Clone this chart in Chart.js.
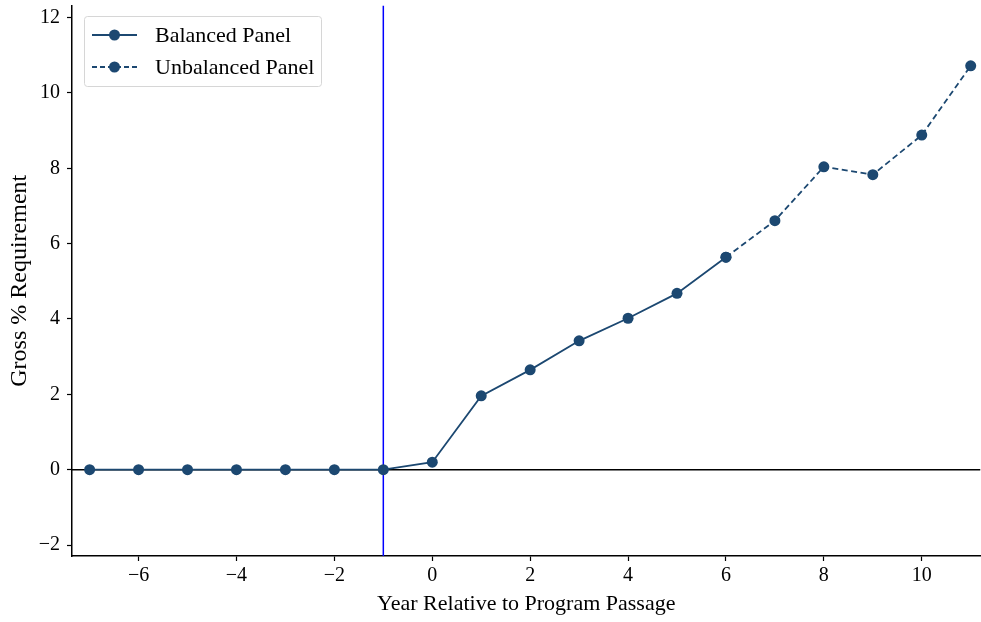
<!DOCTYPE html>
<html>
<head>
<meta charset="utf-8">
<script src="https://cdn.jsdelivr.net/npm/chart.js@4.4.1/dist/chart.umd.min.js"></script>
<style>
  html, body { margin: 0; padding: 0; background: #fff; overflow: hidden; }
  /* canvas is a few px wider than the window: chart.js keeps ~5px spare on the right */
  #wrap { width: 981px; height: 622px; overflow: hidden; }
</style>
</head>
<body>
<div id="wrap"><canvas id="chart" width="986" height="622"></canvas></div>
<script>
// data
balYears = [-7, -6, -5, -4, -3, -2, -1, 0, 1, 2, 3, 4, 5, 6];
balValues = [0, 0, 0, 0, 0, 0, 0, 0.20, 1.96, 2.65, 3.42, 4.02, 4.68, 5.64];
unbYears = [6, 7, 8, 9, 10, 11];
unbValues = [5.64, 6.61, 8.04, 7.83, 8.88, 10.72];
xTicks = [-6, -4, -2, 0, 2, 4, 6, 8, 10];
yTicks = [-2, 0, 2, 4, 6, 8, 10, 12];
passageYear = -1;
xRange = [-7.36, 11.2];
yRange = [-2.29, 12.32];

lineColor = '#1c4871';
serif = "'Liberation Serif', 'DejaVu Serif', serif";

function toPoints(xs, ys) {
  pts = [];
  for (let i = 0; i < xs.length; i++) {
    pts.push({x: xs[i], y: ys[i]});
  }
  return pts;
}

function minusSign(v) {
  return String(v).replace('-', '\u2212');
}

// legend drawn by hand so the line+marker sample looks like matplotlib
const legendPlugin = {
  id: 'mplLegend',
  afterDraw(chart) {
    const ctx = chart.ctx;
    const area = chart.chartArea;
    const x0 = area.left + 12, y0 = 16, w = 237, h = 70;
    ctx.save();
    ctx.fillStyle = 'rgba(255,255,255,0.8)';
    ctx.strokeStyle = '#d6d6d6';
    ctx.lineWidth = 1;
    ctx.beginPath();
    ctx.roundRect(x0 + 0.5, y0 + 0.5, w, h, 3);
    ctx.fill();
    ctx.stroke();
    const items = [
      {label: 'Balanced Panel', dash: []},
      {label: 'Unbalanced Panel', dash: [5, 3]},
    ];
    items.forEach(function(it, k) {
      const cy = y0 + 19 + k * 32;
      ctx.strokeStyle = lineColor;
      ctx.lineWidth = 1.8;
      ctx.setLineDash(it.dash);
      ctx.beginPath();
      ctx.moveTo(x0 + 8, cy);
      ctx.lineTo(x0 + 53, cy);
      ctx.stroke();
      ctx.setLineDash([]);
      ctx.fillStyle = lineColor;
      ctx.beginPath();
      ctx.arc(x0 + 30.5, cy, 5.5, 0, Math.PI * 2);
      ctx.fill();
      ctx.fillStyle = '#000';
      ctx.font = '22px ' + serif;
      ctx.textBaseline = 'middle';
      ctx.fillText(it.label, x0 + 71, cy + 1);
    });
    ctx.restore();
  }
};

const data = {
  datasets: [{
    label: 'zero',
    data: [{x: xRange[0], y: 0}, {x: xRange[1], y: 0}],
    borderColor: '#000',
    borderWidth: 1.5,
    pointRadius: 0,
    order: 4,
  }, {
    label: 'passage',
    data: [{x: passageYear, y: yRange[0]}, {x: passageYear, y: yRange[1]}],
    borderColor: '#0000ff',
    borderWidth: 1.5,
    pointRadius: 0,
    order: 3,
  }, {
    label: 'Unbalanced Panel',
    data: toPoints(unbYears, unbValues),
    borderColor: lineColor,
    backgroundColor: lineColor,
    borderWidth: 1.8,
    borderDash: [6, 3.5],
    pointRadius: 5.5,
    pointBorderWidth: 0,
    order: 2,
  }, {
    label: 'Balanced Panel',
    data: toPoints(balYears, balValues),
    borderColor: lineColor,
    backgroundColor: lineColor,
    borderWidth: 1.8,
    pointRadius: 5.5,
    pointBorderWidth: 0,
    order: 1,
  }]
};

const options = {
  responsive: false,
  animation: false,
  events: [],
  layout: { padding: { top: 5, right: 0, left: 0, bottom: 0 } },
  plugins: {
    legend: { display: false },
    tooltip: { enabled: false },
  },
  scales: {
    x: {
      type: 'linear',
      min: xRange[0],
      max: xRange[1],
      afterBuildTicks: function(scale) {
        scale.ticks = xTicks.map(v => ({value: v}));
      },
      afterFit: function(scale) {
        scale.height = 66;
        scale.paddingLeft = 0;
        scale.paddingRight = 0;
      },
      border: { display: true, color: '#000', width: 1.5 },
      grid: { display: true, drawOnChartArea: false, drawTicks: true, tickLength: 5, tickColor: '#000', tickWidth: 1.2 },
      ticks: {
        color: '#000',
        font: { family: serif, size: 20 },
        padding: 3,
        maxRotation: 0,
        callback: v => minusSign(v),
      },
      title: {
        display: true,
        text: 'Year Relative to Program Passage',
        color: '#000',
        font: { family: serif, size: 22 },
        padding: { top: 0, bottom: 5 },
      },
    },
    y: {
      type: 'linear',
      min: yRange[0],
      max: yRange[1],
      afterBuildTicks: function(scale) {
        scale.ticks = yTicks.map(v => ({value: v}));
      },
      afterFit: function(scale) {
        scale.width = 72;
        scale.paddingTop = 0;
        scale.paddingBottom = 0;
      },
      border: { display: true, color: '#000', width: 1.5 },
      grid: { display: true, drawOnChartArea: false, drawTicks: true, tickLength: 5, tickColor: '#000', tickWidth: 1.2 },
      ticks: {
        color: '#000',
        font: { family: serif, size: 20 },
        padding: 7,
        callback: v => minusSign(v),
      },
      title: {
        display: true,
        text: 'Gross % Requirement',
        color: '#000',
        font: { family: serif, size: 24 },
        padding: { top: 5, bottom: 0 },
      },
    },
  },
};

const ctx = document.getElementById('chart').getContext('2d');
myChart = new Chart(ctx, {
  type: 'line',
  data: data,
  options: options,
  plugins: [legendPlugin],
});
</script>
</body>
</html>
